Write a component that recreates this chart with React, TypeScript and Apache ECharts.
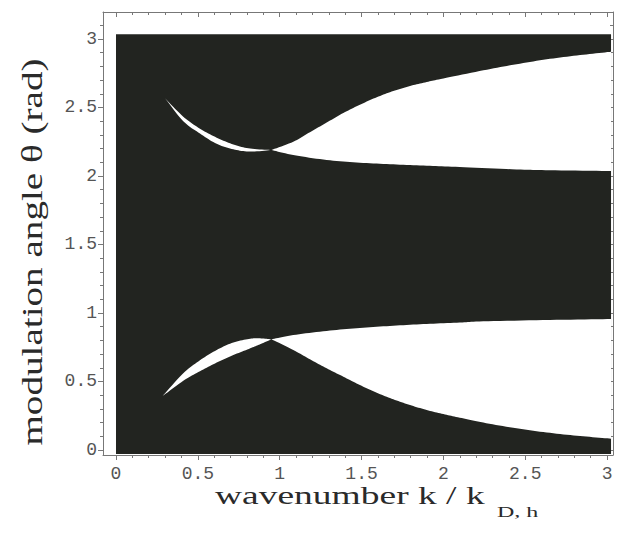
import React, { useEffect, useRef } from "react";
import * as echarts from "echarts";

// ---- axis ticks ----
const majorTicks = [0, 0.5, 1, 1.5, 2, 2.5, 3];
const xMinorTicks = [0.1, 0.2, 0.3, 0.4, 0.6, 0.7, 0.8, 0.9, 1.1, 1.2, 1.3, 1.4, 1.6, 1.7, 1.8, 1.9, 2.1, 2.2, 2.3, 2.4, 2.6, 2.7, 2.8, 2.9];
const yMinorTicks = [0.1, 0.2, 0.3, 0.4, 0.6, 0.7, 0.8, 0.9, 1.1, 1.2, 1.3, 1.4, 1.6, 1.7, 1.8, 1.9, 2.1, 2.2, 2.3, 2.4, 2.6, 2.7, 2.8, 2.9, 3.1];

// ---- filled (unstable) domain: k range and theta range ----
const domainK = [0, 3.024];
const domainTheta = [-0.03, 3.035];

// ---- upper lens (white), k < crossing ----
const upperLensK = [0.3, 0.411, 0.513, 0.615, 0.717, 0.82, 0.95];
const upperLensTop = [2.567, 2.433, 2.345, 2.28, 2.23, 2.2, 2.19];
const upperLensBottom = [2.567, 2.4, 2.31, 2.235, 2.195, 2.178, 2.19];

// ---- upper right white band ----
const upperBandTopK = [0.95, 1.083, 1.185, 1.287, 1.389, 1.49, 1.593, 1.694, 1.796, 1.898, 2.0, 2.244, 2.447, 2.651, 2.854, 3.024];
const upperBandTop = [2.19, 2.25, 2.32, 2.39, 2.46, 2.52, 2.575, 2.62, 2.657, 2.686, 2.712, 2.771, 2.816, 2.855, 2.885, 2.907];
const upperBandBottomK = [0.95, 1.083, 1.287, 1.49, 1.694, 1.898, 2.1, 2.447, 2.651, 3.024];
const upperBandBottom = [2.19, 2.153, 2.117, 2.097, 2.085, 2.075, 2.066, 2.048, 2.042, 2.036];

// ---- lower lens (white) ----
const lowerLensK = [0.285, 0.411, 0.513, 0.615, 0.717, 0.82, 0.88, 0.95];
const lowerLensTop = [0.394, 0.56, 0.655, 0.73, 0.785, 0.812, 0.815, 0.808];
const lowerLensBottom = [0.394, 0.505, 0.575, 0.638, 0.693, 0.742, 0.772, 0.808];

// ---- lower right white band ----
const lowerBandTopK = [0.95, 1.083, 1.287, 1.49, 1.694, 1.898, 2.1, 2.244, 2.651, 3.024];
const lowerBandTop = [0.808, 0.839, 0.869, 0.891, 0.907, 0.92, 0.93, 0.939, 0.949, 0.956];
const lowerBandBottomK = [0.95, 1.083, 1.185, 1.287, 1.389, 1.49, 1.593, 1.694, 1.796, 1.898, 2.0, 2.1, 2.244, 2.447, 2.651, 2.854, 3.024];
const lowerBandBottom = [0.808, 0.73, 0.662, 0.596, 0.535, 0.474, 0.418, 0.37, 0.328, 0.292, 0.262, 0.236, 0.2, 0.158, 0.125, 0.1, 0.083];

type Pt = [number, number];

const DARK = "#222420";

type Region = { topK: number[]; top: number[]; botK: number[]; bottom: number[]; fill: string; smooth: boolean };

const regions: Region[] = [
  { topK: domainK, top: [domainTheta[1], domainTheta[1]], botK: domainK, bottom: [domainTheta[0], domainTheta[0]], fill: DARK, smooth: false },
  { topK: upperLensK, top: upperLensTop, botK: upperLensK, bottom: upperLensBottom, fill: "#ffffff", smooth: true },
  { topK: upperBandTopK, top: upperBandTop, botK: upperBandBottomK, bottom: upperBandBottom, fill: "#ffffff", smooth: true },
  { topK: lowerLensK, top: lowerLensTop, botK: lowerLensK, bottom: lowerLensBottom, fill: "#ffffff", smooth: true },
  { topK: lowerBandTopK, top: lowerBandTop, botK: lowerBandBottomK, bottom: lowerBandBottom, fill: "#ffffff", smooth: true },
];

// Catmull-Rom smoothing of an already-projected (pixel) edge, rendering only.
function smoothEdge(p: Pt[], steps: number): Pt[] {
  if (p.length < 3) return p.slice();
  const out: Pt[] = [];
  for (let i = 0; i < p.length - 1; i++) {
    const p0 = p[i === 0 ? 0 : i - 1];
    const p1 = p[i];
    const p2 = p[i + 1];
    const p3 = p[i + 2 < p.length ? i + 2 : p.length - 1];
    for (let s = 0; s < steps; s++) {
      const t = s / steps;
      const t2 = t * t;
      const t3 = t2 * t;
      const f = (a: number, b: number, c: number, d: number) =>
        0.5 * (2 * b + (-a + c) * t + (2 * a - 5 * b + 4 * c - d) * t2 + (-a + 3 * b - 3 * c + d) * t3);
      out.push([f(p0[0], p1[0], p2[0], p3[0]), f(p0[1], p1[1], p2[1], p3[1])]);
    }
  }
  out.push(p[p.length - 1]);
  return out;
}

const X_MIN = -0.0794;
const X_MAX = 3.036;
const Y_MIN = -0.0365;
const Y_MAX = 3.197;

const FRAME = "#777777";
const LABEL = "#555555";
const MONO = "'Liberation Mono', 'DejaVu Sans Mono', monospace";
const SERIF = "'Liberation Serif', 'DejaVu Serif', serif";

function xAxisDef(position: "bottom" | "top", ticks: number[], len: number, inside: boolean, showLine: boolean, labels: boolean) {
  return {
    type: "value",
    position,
    min: X_MIN,
    max: X_MAX,
    axisLine: { show: showLine, onZero: false, lineStyle: { color: FRAME, width: 1 } },
    axisTick: { show: true, inside, length: len, customValues: ticks, lineStyle: { color: FRAME } },
    axisLabel: labels
      ? { show: true, customValues: majorTicks, color: LABEL, fontFamily: MONO, fontSize: 18, margin: 10 }
      : { show: false },
    splitLine: { show: false },
  };
}

function yAxisDef(position: "left" | "right", ticks: number[], len: number, inside: boolean, showLine: boolean, labels: boolean) {
  return {
    type: "value",
    position,
    min: Y_MIN,
    max: Y_MAX,
    axisLine: { show: showLine, onZero: false, lineStyle: { color: FRAME, width: 1 } },
    axisTick: { show: true, inside, length: len, customValues: ticks, lineStyle: { color: FRAME } },
    axisLabel: labels
      ? { show: true, customValues: majorTicks, color: LABEL, fontFamily: MONO, fontSize: 18, margin: 6 }
      : { show: false },
    splitLine: { show: false },
  };
}

export default function App() {
  const ref = useRef<HTMLDivElement>(null);

  useEffect(() => {
    if (!ref.current) return;
    const chart = echarts.init(ref.current, null, { renderer: "svg" });
    chart.setOption({
      animation: false,
      backgroundColor: "#ffffff",
      grid: { left: 103, top: 12, width: 510, height: 443, containLabel: false },
      xAxis: [
        xAxisDef("bottom", majorTicks, 5, false, true, true),
        xAxisDef("bottom", xMinorTicks, 3, false, false, false),
        xAxisDef("top", majorTicks, 5, true, true, false),
        xAxisDef("top", xMinorTicks, 3, true, false, false),
      ],
      yAxis: [
        yAxisDef("left", majorTicks, 5, false, true, true),
        yAxisDef("left", yMinorTicks, 3, false, false, false),
        yAxisDef("right", majorTicks, 5, true, true, false),
        yAxisDef("right", yMinorTicks, 3, true, false, false),
      ],
      series: [
        {
          type: "custom",
          xAxisIndex: 0,
          yAxisIndex: 0,
          clip: true,
          data: regions.map((r) => [r.topK[0], r.top[0]]),
          renderItem: (params: any, api: any) => {
            const r = regions[params.dataIndex];
            const topPx: Pt[] = r.topK.map((k, i) => api.coord([k, r.top[i]]));
            const botPx: Pt[] = r.botK.map((k, i) => api.coord([k, r.bottom[i]]));
            const top = r.smooth ? smoothEdge(topPx, 10) : topPx;
            const bot = r.smooth ? smoothEdge(botPx, 10) : botPx;
            const pts = top.concat(bot.slice().reverse());
            return {
              type: "polygon",
              shape: { points: pts },
              style: { fill: r.fill, stroke: "none" },
            };
          },
        },
      ],
      graphic: [
        {
          type: "text",
          x: 32,
          y: 252,
          rotation: Math.PI / 2,
          scaleX: 1.35,
          style: {
            text: "modulation angle θ (rad)",
            fontFamily: SERIF,
            fontSize: 29,
            fill: "#2a2a2a",
            align: "center",
            verticalAlign: "middle",
            textAlign: "center",
            textVerticalAlign: "middle",
          },
        },
        {
          type: "text",
          x: 215,
          y: 496,
          scaleX: 1.5,
          style: {
            text: "wavenumber k / k",
            fontFamily: SERIF,
            fontSize: 25,
            fill: "#2a2a2a",
            align: "left",
            verticalAlign: "middle",
            textAlign: "left",
            textVerticalAlign: "middle",
          },
        },
        {
          type: "text",
          x: 497,
          y: 512,
          scaleX: 1.6,
          style: {
            text: "D, h",
            fontFamily: SERIF,
            fontSize: 15,
            fill: "#2a2a2a",
            align: "left",
            verticalAlign: "middle",
            textAlign: "left",
            textVerticalAlign: "middle",
          },
        },
      ],
    });
    return () => chart.dispose();
  }, []);

  return (
    <div
      ref={ref}
      style={{ position: "fixed", left: 0, top: 0, width: 626, height: 546 }}
    />
  );
}
